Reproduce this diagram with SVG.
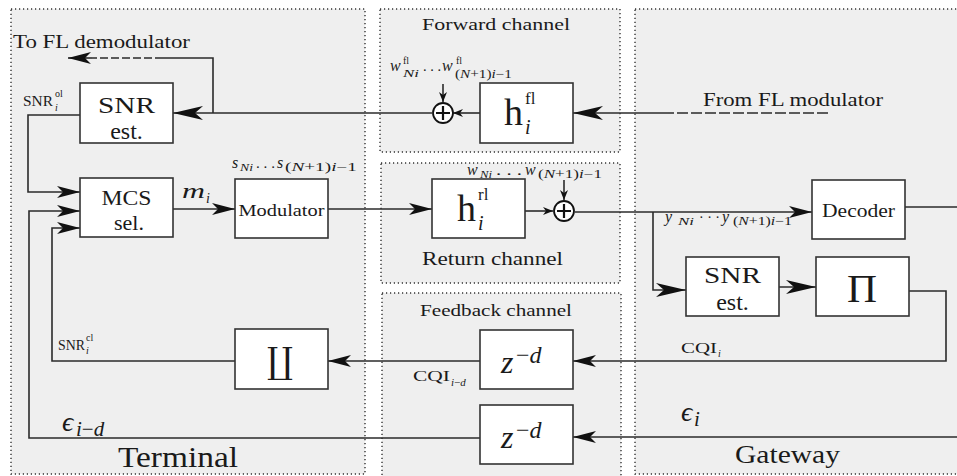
<svg xmlns="http://www.w3.org/2000/svg" width="957" height="476" viewBox="0 0 957 476" font-family="'Liberation Serif', 'Times New Roman', 'DejaVu Serif', serif">
<defs>
<style>
.region{fill:#efefef;stroke:#333;stroke-width:1.4;stroke-dasharray:1.2 2.8}
.box{fill:#fff;stroke:#333;stroke-width:1.6}
.ln{fill:none;stroke:#2b2b2b;stroke-width:1.6}
.dash{fill:none;stroke:#2b2b2b;stroke-width:1.6;stroke-dasharray:11 3}
.sum{fill:#fff;stroke:#111;stroke-width:1.8}
text{font-family:'Liberation Serif','Times New Roman','DejaVu Serif',serif;fill:#1a1a1a}
.it{font-style:italic}
</style>
<marker id="aL" markerUnits="userSpaceOnUse" markerWidth="30" markerHeight="14" refX="30" refY="7" orient="auto" overflow="visible"><path d="M30,7 L0,0 L8,7 L0,14 Z" fill="#111"/></marker>
<marker id="aM" markerUnits="userSpaceOnUse" markerWidth="23" markerHeight="12" refX="23" refY="6" orient="auto" overflow="visible"><path d="M23,6 L0,0 L6,6 L0,12 Z" fill="#111"/></marker>
<marker id="aS" markerUnits="userSpaceOnUse" markerWidth="10" markerHeight="8" refX="10" refY="4" orient="auto" overflow="visible"><path d="M10,4 L0,0 L3,4 L0,8 Z" fill="#111"/></marker>
</defs>

<g id="regions">
<rect class="region" x="11" y="9" width="354" height="465"/>
<rect class="region" x="380" y="9" width="240" height="143"/>
<rect class="region" x="381" y="163" width="239" height="120"/>
<rect class="region" x="382" y="293" width="239" height="190"/>
<rect class="region" x="635" y="9" width="330" height="465"/>
</g>

<g id="connectors">
<path class="dash" d="M828,113 H668"/>
<path class="ln" d="M668,113 H573" marker-end="url(#aL)"/>
<path class="ln" d="M480,113 H453" marker-end="url(#aS)"/>
<path class="ln" d="M443,84 V102" marker-end="url(#aS)"/>
<path class="ln" d="M432,113 H173" marker-end="url(#aL)"/>
<path class="ln" d="M213,113 V58 H163"/>
<path class="dash" d="M163,58 H92" style="stroke-dasharray:8 3"/>
<path class="ln" d="M92,58 H68" marker-end="url(#aM)"/>
<path class="ln" d="M80,115 H28 V192 H80" marker-end="url(#aM)"/>
<path class="ln" d="M173,209 H235" marker-end="url(#aM)"/>
<path class="ln" d="M328,209 H432" marker-end="url(#aM)"/>
<path class="ln" d="M525,211 H553" marker-end="url(#aS)"/>
<path class="ln" d="M564,180 V200" marker-end="url(#aS)"/>
<path class="ln" d="M575,212 H812" marker-end="url(#aM)"/>
<path class="ln" d="M653,212 V290 H686" marker-end="url(#aL)"/>
<path class="ln" d="M779,287 H816" marker-end="url(#aL)"/>
<path class="ln" d="M909,291 H946 V361 H573" marker-end="url(#aM)"/>
<path class="ln" d="M480,361 H328" marker-end="url(#aM)"/>
<path class="ln" d="M235,361 H52 V228 H80" marker-end="url(#aM)"/>
<path class="ln" d="M957,437 H573" marker-end="url(#aM)"/>
<path class="ln" d="M480,438 H29 V211 H80" marker-end="url(#aM)"/>
<path class="ln" d="M905,207 H957"/>
</g>

<g id="labels">
<text x="13" y="48" font-size="18" textLength="177" lengthAdjust="spacingAndGlyphs">To FL demodulator</text>
<text x="422" y="30" font-size="17" textLength="148" lengthAdjust="spacingAndGlyphs">Forward channel</text>
<text x="703" y="106" font-size="18" textLength="180" lengthAdjust="spacingAndGlyphs">From FL modulator</text>
<text x="422" y="265" font-size="18" textLength="141" lengthAdjust="spacingAndGlyphs">Return channel</text>
<text x="420" y="316" font-size="17" textLength="152" lengthAdjust="spacingAndGlyphs">Feedback channel</text>
<text x="118" y="467" font-size="29" textLength="120" lengthAdjust="spacingAndGlyphs">Terminal</text>
<text x="735" y="463" font-size="26" textLength="105" lengthAdjust="spacingAndGlyphs">Gateway</text>

<text x="23" y="106" font-size="14" textLength="30" lengthAdjust="spacingAndGlyphs">SNR</text>
<text x="55" y="97" font-size="10">ol</text>
<text x="55" y="111" font-size="10" class="it">i</text>
<text x="58" y="350" font-size="14" textLength="27" lengthAdjust="spacingAndGlyphs">SNR</text>
<text x="86" y="341" font-size="10">cl</text>
<text x="86" y="354" font-size="10" class="it">i</text>

<text x="182" y="198" font-size="22" class="it" textLength="23" lengthAdjust="spacingAndGlyphs">m</text>
<text x="206" y="203" font-size="14" class="it">i</text>

<text x="232" y="168" font-size="16" class="it">s</text>
<text x="240" y="171" font-size="11" class="it" textLength="13" lengthAdjust="spacingAndGlyphs">Ni</text>
<text x="256" y="168" font-size="15" textLength="19" lengthAdjust="spacingAndGlyphs">. . .</text>
<text x="277" y="168" font-size="16" class="it">s</text>
<text x="285" y="171" font-size="12" textLength="72" lengthAdjust="spacingAndGlyphs">(<tspan class="it">N</tspan>+1)<tspan class="it">i</tspan>−1</text>

<text x="390" y="71" font-size="16" class="it">w</text>
<text x="403" y="64" font-size="10">fl</text>
<text x="403" y="77" font-size="11" class="it" textLength="16" lengthAdjust="spacingAndGlyphs">Ni</text>
<text x="423" y="71" font-size="15" textLength="18" lengthAdjust="spacingAndGlyphs">. . .</text>
<text x="442" y="71" font-size="16" class="it">w</text>
<text x="456" y="64" font-size="10">fl</text>
<text x="455" y="78" font-size="12" textLength="57" lengthAdjust="spacingAndGlyphs">(<tspan class="it">N</tspan>+1)<tspan class="it">i</tspan>−1</text>

<text x="467" y="175" font-size="16" class="it">w</text>
<text x="480" y="178" font-size="11" class="it" textLength="12" lengthAdjust="spacingAndGlyphs">Ni</text>
<text x="496" y="175" font-size="15" textLength="26" lengthAdjust="spacingAndGlyphs">. . .</text>
<text x="525" y="175" font-size="16" class="it">w</text>
<text x="538" y="178" font-size="12" textLength="64" lengthAdjust="spacingAndGlyphs">(<tspan class="it">N</tspan>+1)<tspan class="it">i</tspan>−1</text>

<text x="665" y="222" font-size="16" class="it">y</text>
<text x="678" y="225" font-size="11" class="it" textLength="16" lengthAdjust="spacingAndGlyphs">Ni</text>
<text x="699" y="222" font-size="15" textLength="21" lengthAdjust="spacingAndGlyphs">· · ·</text>
<text x="722" y="222" font-size="16" class="it">y</text>
<text x="733" y="225" font-size="12" textLength="59" lengthAdjust="spacingAndGlyphs">(<tspan class="it">N</tspan>+1)<tspan class="it">i</tspan>−1</text>

<text x="681" y="353" font-size="15" textLength="36" lengthAdjust="spacingAndGlyphs">CQI</text>
<text x="718" y="357" font-size="10" class="it">i</text>
<text x="413" y="381" font-size="15" textLength="37" lengthAdjust="spacingAndGlyphs">CQI</text>
<text x="451" y="386" font-size="11"><tspan class="it">i</tspan>−<tspan class="it">d</tspan></text>
<text x="62" y="431" font-size="28" class="it">ϵ</text>
<text x="76" y="436" font-size="21"><tspan class="it">i</tspan>−<tspan class="it">d</tspan></text>
<text x="681" y="421" font-size="28" class="it">ϵ</text>
<text x="694" y="426" font-size="21" class="it">i</text>
</g>

<g id="snr-est-terminal">
<rect class="box" x="80" y="83" width="93" height="60"/>
<text x="126.5" y="113" font-size="24" text-anchor="middle" textLength="57" lengthAdjust="spacingAndGlyphs">SNR</text>
<text x="126.5" y="139" font-size="24" text-anchor="middle">est.</text>
</g>

<g id="mcs-sel">
<rect class="box" x="80" y="178" width="93" height="59"/>
<text x="126.5" y="205" font-size="22" text-anchor="middle" textLength="50" lengthAdjust="spacingAndGlyphs">MCS</text>
<text x="129" y="230" font-size="22" text-anchor="middle">sel.</text>
</g>

<g id="modulator">
<rect class="box" x="235" y="179" width="93" height="59"/>
<text x="281.5" y="216" font-size="16" text-anchor="middle" textLength="86" lengthAdjust="spacingAndGlyphs">Modulator</text>
</g>

<g id="deinterleaver">
<rect class="box" x="235" y="329" width="93" height="60"/>
<text x="280" y="373" font-size="36" text-anchor="middle" textLength="26" lengthAdjust="spacingAndGlyphs">∐</text>
</g>

<g id="sum-forward">
<circle class="sum" cx="443" cy="113" r="10"/>
<path d="M443,106 V120 M436,113 H450" stroke="#111" stroke-width="2.2"/>
</g>

<g id="h-fl">
<rect class="box" x="480" y="83" width="93" height="60"/>
<text x="504" y="125" font-size="38">h</text>
<text x="525" y="104" font-size="17">fl</text>
<text x="525" y="134" font-size="20" class="it">i</text>
</g>

<g id="h-rl">
<rect class="box" x="432" y="179" width="93" height="59"/>
<text x="457" y="221" font-size="38">h</text>
<text x="478" y="200" font-size="17">rl</text>
<text x="478" y="230" font-size="20" class="it">i</text>
</g>

<g id="sum-return">
<circle class="sum" cx="564" cy="211" r="10"/>
<path d="M564,204 V218 M557,211 H571" stroke="#111" stroke-width="2.2"/>
</g>

<g id="delay-cqi">
<rect class="box" x="480" y="330" width="93" height="59"/>
<text x="501" y="373" font-size="32" class="it">z</text>
<text x="516" y="363" font-size="24">−<tspan class="it">d</tspan></text>
</g>

<g id="delay-ack">
<rect class="box" x="480" y="405" width="93" height="59"/>
<text x="501" y="448" font-size="32" class="it">z</text>
<text x="516" y="438" font-size="24">−<tspan class="it">d</tspan></text>
</g>

<g id="decoder">
<rect class="box" x="812" y="180" width="93" height="59"/>
<text x="858.5" y="217" font-size="18" text-anchor="middle" textLength="73" lengthAdjust="spacingAndGlyphs">Decoder</text>
</g>

<g id="snr-est-gateway">
<rect class="box" x="686" y="257" width="93" height="59"/>
<text x="732.5" y="283" font-size="24" text-anchor="middle" textLength="57" lengthAdjust="spacingAndGlyphs">SNR</text>
<text x="732.5" y="310" font-size="24" text-anchor="middle">est.</text>
</g>

<g id="interleaver">
<rect class="box" x="816" y="257" width="93" height="59"/>
<text x="862" y="302" font-size="40" text-anchor="middle" textLength="30" lengthAdjust="spacingAndGlyphs">Π</text>
</g>
</svg>
